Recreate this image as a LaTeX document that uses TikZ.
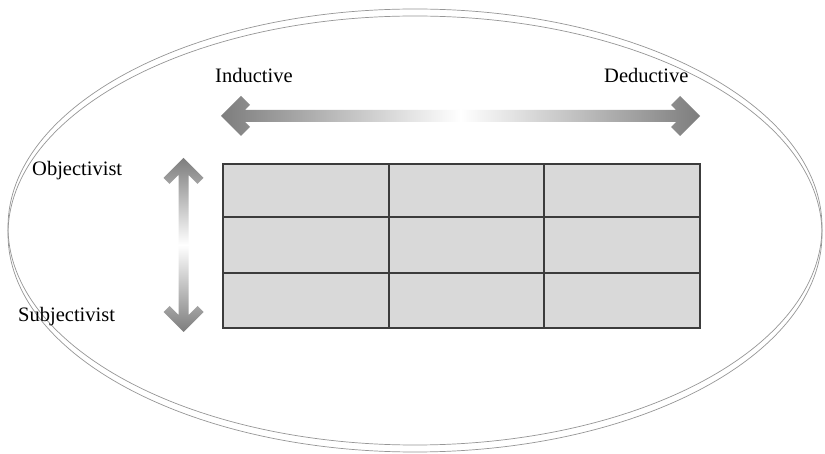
\documentclass[tikz,border=0pt]{standalone}
\usepackage{fontspec}
\setmainfont{Liberation Serif}
\definecolor{arrgray}{RGB}{125,125,125}
\definecolor{cellfill}{RGB}{217,217,217}
\definecolor{cellline}{RGB}{60,60,60}
\definecolor{ringgray}{RGB}{150,150,150}
\begin{document}
\begin{tikzpicture}[x=1pt,y=-1pt,
  ring/.style={draw=ringgray,line width=0.7pt},
  cell/.style={draw=cellline,fill=cellfill,line width=1.9pt,rectangle,inner sep=0pt,anchor=north west},
  lbl/.style={inner sep=0pt,anchor=base west,font=\fontsize{20.5}{24}\selectfont}]
\useasboundingbox (0,0) rectangle (825,454);
\fill[white] (0,0) rectangle (825,454);
% double ellipse
\draw[ring] (415,227) ellipse [x radius=407, y radius=218];
\draw[ring] (415,234) ellipse [x radius=407, y radius=218];
% horizontal arrow
\path[left color=arrgray,right color=arrgray,middle color=white]
  (221,116) -- (241,96) -- (250,105) -- (245,110) -- (676,110) -- (671,105) -- (680,96) -- (700,116)
  -- (680,136) -- (671,127) -- (676,122) -- (245,122) -- (250,127) -- (241,136) -- cycle;
% vertical arrow
\path[top color=arrgray,bottom color=arrgray,middle color=white]
  (183.5,158) -- (203.5,178) -- (197.5,184) -- (188.5,175) -- (188.5,315) -- (197.5,306) -- (203.5,312) -- (183.5,332)
  -- (163.5,312) -- (169.5,306) -- (178.5,315) -- (178.5,175) -- (169.5,184) -- (163.5,178) -- cycle;
% grid cells
\node[cell,minimum width=166pt,minimum height=53pt] (c11) at (222,163) {};
\node[cell,minimum width=155pt,minimum height=53pt] (c12) at (388,163) {};
\node[cell,minimum width=156pt,minimum height=53pt] (c13) at (543,163) {};
\node[cell,minimum width=166pt,minimum height=56pt] (c21) at (222,216) {};
\node[cell,minimum width=155pt,minimum height=56pt] (c22) at (388,216) {};
\node[cell,minimum width=156pt,minimum height=56pt] (c23) at (543,216) {};
\node[cell,minimum width=166pt,minimum height=55pt] (c31) at (222,272) {};
\node[cell,minimum width=155pt,minimum height=55pt] (c32) at (388,272) {};
\node[cell,minimum width=156pt,minimum height=55pt] (c33) at (543,272) {};
% labels
\node[lbl] (ind) at (215,83) {Inductive};
\node[lbl] (ded) at (604,83) {Deductive};
\node[lbl] (obj) at (32,176) {Objectivist};
\node[lbl] (sub) at (18,322) {Subjectivist};
\end{tikzpicture}
\end{document}
